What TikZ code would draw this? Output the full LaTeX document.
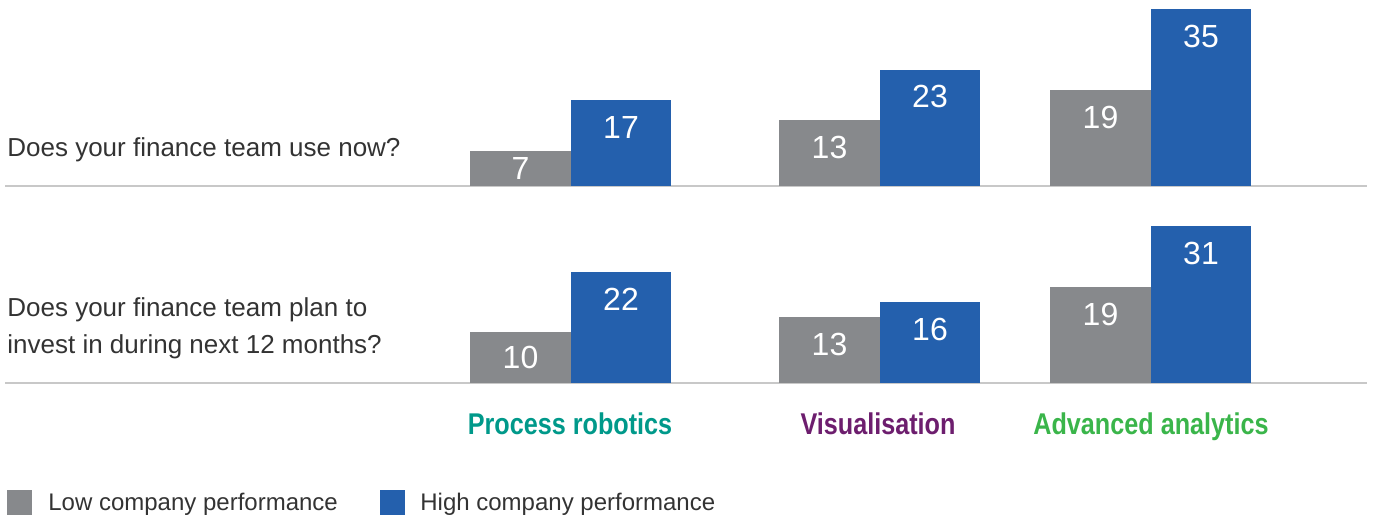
\documentclass[tikz,border=0pt]{standalone}
\usepackage{fontspec}
\setmainfont{Liberation Sans}
\newfontfamily\condfont[FakeStretch=0.84]{Liberation Sans}
\definecolor{lowgray}{HTML}{87898C}
\definecolor{highblue}{HTML}{2460AD}
\definecolor{textgray}{HTML}{333333}
\definecolor{rulegray}{HTML}{C8C8C8}
\definecolor{robteal}{HTML}{00998A}
\definecolor{vispurple}{HTML}{6D1E6E}
\definecolor{anagreen}{HTML}{3AB54A}

\tikzset{
    val/.style={text=white, font=\fontsize{16}{16}\selectfont, inner sep=0pt},
    question/.style={text=textgray, font=\fontsize{13}{18.5}\selectfont, align=left, inner sep=0pt, anchor=base west},
    category/.style={font=\condfont\bfseries\fontsize{15}{15}\selectfont, inner sep=0pt, anchor=base},
    legend/.style={text=textgray, font=\fontsize{12}{12}\selectfont, inner sep=0pt, anchor=base west},
}

% one pair of bars: name, left x, baseline, low value, high value
\newcommand{\barpair}[5]{%
    \fill[lowgray] (#2,#3) rectangle ++(101,#4*5.05);
    \fill[highblue] (#2+101,#3) rectangle ++(100,#5*5.05);
    \pgfmathsetmacro{\ylo}{#3+max(#4*5.05-27,#4*5.05/2)}
    \pgfmathsetmacro{\yhi}{#3+max(#5*5.05-27,#5*5.05/2)}
    \node[val] (#1-low) at (#2+50.5,\ylo) {#4};
    \node[val] (#1-high) at (#2+151,\yhi) {#5};
}

\begin{document}
\begin{tikzpicture}[x=0.5pt, y=0.5pt]
    \useasboundingbox (0,0) rectangle (1375,517);

    % baselines
    \draw[rulegray, line width=1pt] (5,331) -- (1367,331);
    \draw[rulegray, line width=1pt] (5,134) -- (1367,134);

    % questions
    \node[question] (qnow) at (7,360) {Does your finance team use now?};
    \node[question] (qplan) at (7,163) {Does your finance team plan to\\invest in during next 12 months?};

    % bars, row 1
    \barpair{robnow}{470}{331}{7}{17}
    \barpair{visnow}{779}{331}{13}{23}
    \barpair{ananow}{1050}{331}{19}{35}

    % bars, row 2
    \barpair{robplan}{470}{134}{10}{22}
    \barpair{visplan}{779}{134}{13}{16}
    \barpair{anaplan}{1050}{134}{19}{31}

    % categories
    \node[category, text=robteal] (robotics) at (570,82) {Process robotics};
    \node[category, text=vispurple] (visual) at (878,82) {Visualisation};
    \node[category, text=anagreen] (analytics) at (1151,82) {Advanced analytics};

    % legend
    \fill[lowgray] (7,2) rectangle (32,27);
    \node[legend] (lowlab) at (48,6) {Low company performance};
    \fill[highblue] (380,2) rectangle (405,27);
    \node[legend] (highlab) at (420,6) {High company performance};
\end{tikzpicture}
\end{document}
